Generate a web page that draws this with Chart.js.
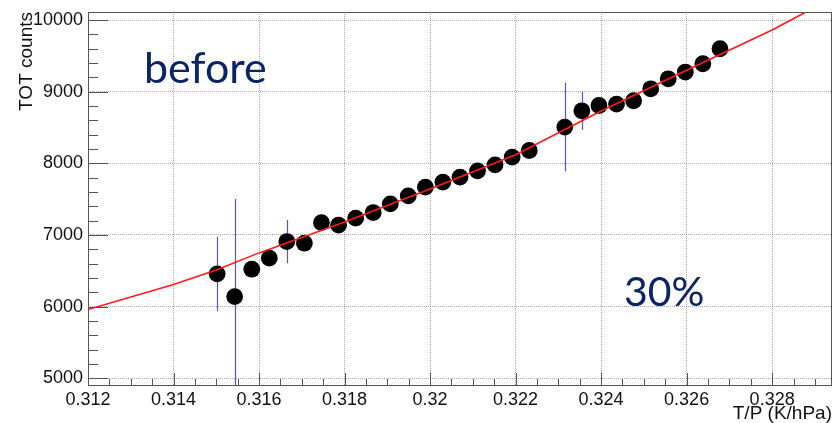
<!DOCTYPE html>
<html>
<head>
<meta charset="utf-8">
<script src="https://cdn.jsdelivr.net/npm/chart.js@4.4.1/dist/chart.umd.min.js"></script>
<style>
  html, body { margin: 0; padding: 0; background: #fff; }
  #wrap { width: 833px; height: 423px; }
</style>
</head>
<body>
<div id="wrap"><canvas id="canvas" width="833" height="423"></canvas></div>
<script>
// T/P (K/hPa) of each measurement
const tpValues = [0.31502, 0.31543, 0.31583, 0.31624, 0.31665, 0.31706, 0.31746, 0.31786,
  0.31826, 0.31867, 0.31907, 0.31949, 0.31989, 0.32030, 0.32070, 0.32111, 0.32152,
  0.32192, 0.32232, 0.32315, 0.32355, 0.32395, 0.32436, 0.32476, 0.32516, 0.32557,
  0.32597, 0.32638, 0.32678];
// TOT counts
const totCounts = [6457, 6140, 6522, 6676, 6908, 6885, 7173, 7137, 7235, 7313, 7434,
  7546, 7668, 7737, 7807, 7895, 7979, 8087, 8179, 8506, 8733, 8807, 8827, 8873, 9040,
  9180, 9274, 9390, 9599];
// vertical errors (most are hidden under the markers)
const totErrors = [520, 1364, 80, 80, 303, 80, 80, 80, 80, 80, 80, 80, 80, 80, 80, 80,
  80, 80, 80, 618, 268, 80, 80, 80, 80, 80, 80, 80, 80];

// fit curve
const fitX = [0.312, 0.314, 0.315, 0.316, 0.318, 0.320, 0.322, 0.324, 0.326, 0.328, 0.32879];
const fitY = [5960, 6310, 6512, 6750, 7180, 7640, 8120, 8730, 9300, 9860, 10112];

// tick labels
const xTicks = [0.312, 0.314, 0.316, 0.318, 0.32, 0.322, 0.324, 0.326, 0.328];
const yTicks = [5000, 6000, 7000, 8000, 9000, 10000];
const xMinorStep = 0.0005, yMinorStep = 200;

const textFont = '"Liberation Sans", Arial, sans-serif';

const errorBars = {
  id: 'errorBars',
  beforeDatasetsDraw(chart) {
    const { ctx, chartArea: a, scales: { x, y } } = chart;
    ctx.save();
    ctx.beginPath();
    ctx.rect(a.left, a.top, a.right - a.left, a.bottom - a.top);
    ctx.clip();
    ctx.strokeStyle = '#5656d4';
    ctx.lineWidth = 1.2;
    tpValues.forEach((tp, i) => {
      const px = Math.round(x.getPixelForValue(tp)) + 0.5;
      ctx.beginPath();
      ctx.moveTo(px, y.getPixelForValue(totCounts[i] - totErrors[i]));
      ctx.lineTo(px, y.getPixelForValue(totCounts[i] + totErrors[i]));
      ctx.stroke();
    });
    ctx.restore();
  }
};

const frame = {
  id: 'frame',
  afterDraw(chart) {
    const { ctx, chartArea: a, scales: { x, y } } = chart;
    ctx.save();
    ctx.strokeStyle = '#555';
    ctx.lineWidth = 1;
    ctx.strokeRect(a.left + 0.5, a.top + 0.5, a.right - a.left - 1, a.bottom - a.top);

    // ROOT style ticks, drawn inside the frame
    ctx.beginPath();
    const nx = Math.floor((x.max - x.min) / xMinorStep + 1e-6);
    for (let k = 0; k <= nx; k++) {
      const v = x.min + k * xMinorStep;
      const px = Math.round(x.getPixelForValue(v)) + 0.5;
      const major = k % 4 === 0;
      ctx.moveTo(px, a.bottom);
      ctx.lineTo(px, a.bottom - (major ? 12 : 6));
    }
    const y0 = Math.ceil(y.min / yMinorStep) * yMinorStep;
    for (let v = y0; v <= y.max; v += yMinorStep) {
      const py = Math.round(y.getPixelForValue(v)) + 0.5;
      const major = v % 1000 === 0;
      ctx.moveTo(a.left, py);
      ctx.lineTo(a.left + (major ? 20 : 10), py);
    }
    ctx.stroke();

    // axis titles
    ctx.fillStyle = '#111';
    ctx.font = '19px ' + textFont;
    ctx.textAlign = 'right';
    ctx.textBaseline = 'alphabetic';
    ctx.fillText('T/P (K/hPa)', a.right, 419);
    ctx.translate(32, a.top);
    ctx.rotate(-Math.PI / 2);
    ctx.fillText('TOT counts', 0, 0);
    ctx.restore();

    // slide annotations
    ctx.save();
    ctx.fillStyle = '#0b2466';
    ctx.textAlign = 'left';
    ctx.textBaseline = 'alphabetic';
    ctx.font = '43px Lato, "Open Sans", sans-serif';
    ctx.fillText('before', 144, 83);
    ctx.font = '41px Lato, "Open Sans", sans-serif';
    ctx.fillText('30%', 624, 306);
    ctx.restore();
  }
};

new Chart(document.getElementById('canvas').getContext('2d'), {
  data: {
    datasets: [{
      type: 'line',
      label: 'fit',
      data: fitX.map((v, i) => ({ x: v, y: fitY[i] })),
      borderColor: '#ff1a1a',
      borderWidth: 1.6,
      pointRadius: 0,
      tension: 0,
      order: 0
    }, {
      type: 'scatter',
      label: 'data',
      data: tpValues.map((v, i) => ({ x: v, y: totCounts[i] })),
      backgroundColor: '#000',
      borderWidth: 0,
      pointRadius: 8.4,
      order: 1
    }]
  },
  options: {
    responsive: false,
    animation: false,
    devicePixelRatio: 1,
    layout: { autoPadding: false, padding: { top: 12, right: 1, left: 0, bottom: 0 } },
    plugins: { legend: { display: false }, tooltip: { enabled: false } },
    scales: {
      x: {
        type: 'linear',
        min: 0.312,
        max: 0.3294,
        afterBuildTicks(scale) { scale.ticks = xTicks.map(v => ({ value: v })); },
        afterFit(scale) {
          scale.height = 38;
          scale.paddingLeft = 0;
          scale.paddingRight = 0;
        },
        ticks: {
          maxRotation: 0,
          autoSkip: false,
          padding: 4,
          color: '#111',
          font: { family: textFont, size: 18 },
          callback: v => String(Number(v.toFixed(4)))
        },
        grid: { color: 'rgba(0,0,0,0.32)', lineWidth: 1, drawTicks: false },
        border: { display: false, dash: [1, 1] }
      },
      y: {
        type: 'linear',
        min: 4906,
        max: 10112,
        afterBuildTicks(scale) { scale.ticks = yTicks.map(v => ({ value: v })); },
        afterFit(scale) {
          scale.width = 88;
          scale.paddingTop = 0;
          scale.paddingBottom = 0;
        },
        ticks: {
          autoSkip: false,
          padding: 5,
          color: '#111',
          font: { family: textFont, size: 18 },
          callback: v => String(Math.round(v))
        },
        grid: { color: 'rgba(0,0,0,0.32)', lineWidth: 1, drawTicks: false },
        border: { display: false, dash: [1, 1] }
      }
    }
  },
  plugins: [errorBars, frame]
});
</script>
</body>
</html>
